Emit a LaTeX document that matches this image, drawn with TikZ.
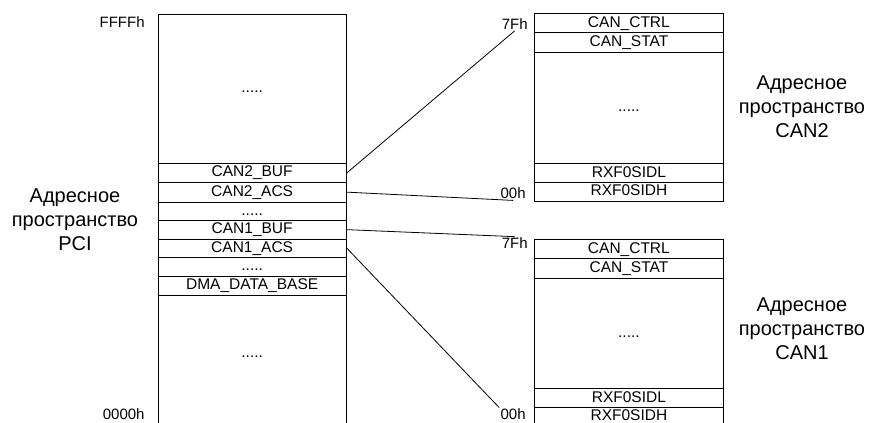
\documentclass[tikz,border=0pt]{standalone}
\usepackage{fontspec}
\setmainfont{Liberation Sans}
\begin{document}
\begin{tikzpicture}[x=1pt,y=-1pt,line width=0.8pt,
  cell/.style={draw,anchor=north west,inner sep=0pt,text height=11pt,
    text depth=3pt,font=\fontsize{15.5}{18}\selectfont},
  pcicell/.style={cell,minimum width=188.5pt},
  cancell/.style={cell,minimum width=189pt},
  addr/.style={anchor=east,inner sep=1pt,font=\fontsize{15}{18}\selectfont},
  space/.style={align=center,font=\fontsize{20}{24}\selectfont}]
\useasboundingbox (0,0) rectangle (871,423);
\clip (0,0) rectangle (871,423);
% PCI address space
\node[pcicell,minimum height=149.5pt] (pcitop) at (157.5,13.5) {.....};
\node[pcicell,minimum height=19pt] (buf2) at (157.5,163) {CAN2\_BUF};
\node[pcicell,minimum height=19.5pt] (acs2) at (157.5,182) {CAN2\_ACS};
\node[pcicell,minimum height=18.5pt] (gap2) at (157.5,201.5) {.....};
\node[pcicell,minimum height=18.5pt] (buf1) at (157.5,220) {CAN1\_BUF};
\node[pcicell,minimum height=18.5pt] (acs1) at (157.5,238.5) {CAN1\_ACS};
\node[pcicell,minimum height=19pt] (gap1) at (157.5,257) {.....};
\node[pcicell,minimum height=18.5pt] (dma) at (157.5,276) {DMA\_DATA\_BASE};
\node[pcicell,minimum height=131pt,text depth=16pt] (pcibot) at (157.5,294.5) {.....};
% CAN2 address space
\node[cancell,minimum height=19pt] (ctrl2) at (534,13.3) {CAN\_CTRL};
\node[cancell,minimum height=19.4pt] (stat2) at (534,32.3) {CAN\_STAT};
\node[cancell,minimum height=111.6pt] (mid2) at (534,51.7) {.....};
\node[cancell,minimum height=19pt] (sidl2) at (534,163.3) {RXF0SIDL};
\node[cancell,minimum height=18.4pt] (sidh2) at (534,182.3) {RXF0SIDH};
% CAN1 address space
\node[cancell,minimum height=19pt] (ctrl1) at (534,239.3) {CAN\_CTRL};
\node[cancell,minimum height=19.4pt] (stat1) at (534,258.3) {CAN\_STAT};
\node[cancell,minimum height=110.6pt] (mid1) at (534,277.7) {.....};
\node[cancell,minimum height=18.7pt] (sidl1) at (534,388.3) {RXF0SIDL};
\node[cancell,minimum height=19pt] (sidh1) at (534,407) {RXF0SIDH};
% addresses
\node[addr] (hffff) at (146,22.5) {FFFFh};
\node[addr] (h0000) at (146,414.5) {0000h};
\node[addr] (h7f2) at (529,24) {7Fh};
\node[addr] (h002) at (527,193.5) {00h};
\node[addr] (h7f1) at (529,243.5) {7Fh};
\node[addr] (h001) at (527,414.5) {00h};
% captions
\node[space] (pci) at (75,220) {Адресное\\пространство\\PCI};
\node[space] (can2) at (802,107) {Адресное\\пространство\\CAN2};
\node[space] (can1) at (802,329) {Адресное\\пространство\\CAN1};
% mapping
\draw (buf2.east) -- (h7f2.south);
\draw (acs2.east) -- (h002.south);
\draw (buf1.east) -- (h7f1.north);
\draw (acs1.east) -- (h001.north west);
\end{tikzpicture}
\end{document}
